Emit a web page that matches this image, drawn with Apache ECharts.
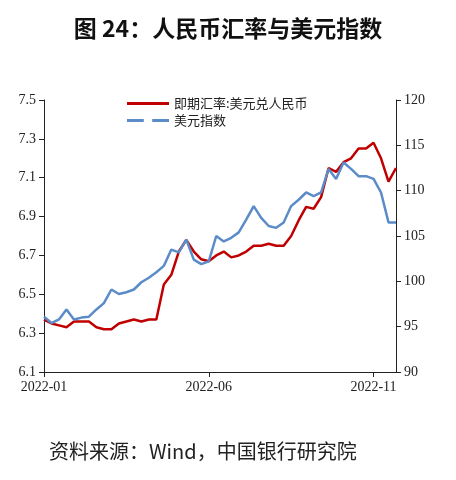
<!DOCTYPE html>
<html><head><meta charset="utf-8">
<script src="https://cdn.jsdelivr.net/npm/echarts@6/dist/echarts.min.js"></script>
<style>body{margin:0;background:#fff}#c{width:456px;height:480px}</style>
</head><body><div id="c"></div>
<script>
// weekly samples from 2022-01-01
var startDate = new Date(2022, 0, 1);
var cny = [6.37,6.35,6.34,6.33,6.36,6.36,6.36,6.33,6.32,6.32,6.35,6.36,6.37,6.36,6.37,6.37,
  6.55,6.60,6.72,6.78,6.72,6.68,6.67,6.70,6.72,6.69,6.70,6.72,6.75,6.75,6.76,6.75,6.75,
  6.80,6.88,6.95,6.94,7.00,7.15,7.13,7.18,7.20,7.25,7.25,7.28,7.20,7.08,7.15];
var dxy = [96.1,95.4,95.8,96.9,95.8,96.0,96.1,96.9,97.6,99.1,98.6,98.8,99.1,99.9,100.4,101.0,
  101.7,103.5,103.2,104.6,102.4,101.9,102.2,105.0,104.4,104.8,105.4,106.8,108.3,107.0,106.1,105.9,106.5,
  108.3,109.0,109.8,109.4,109.8,112.4,111.3,113.1,112.4,111.6,111.6,111.3,109.8,106.5,106.5];
var labelIdx = [0, 22, 44];

var dates = cny.map(function(v, i){
  var d = new Date(startDate.getTime() + i * 7 * 86400000);
  return d.getFullYear() + '-' + ('0' + (d.getMonth() + 1)).slice(-2);
});

var chart = echarts.init(document.getElementById('c'));
var axisFont = {fontFamily: 'Liberation Serif', fontSize: 14, color: '#222'};
chart.setOption({
  title: [
    {text: '图 24：人民币汇率与美元指数', left: 'center', top: 12,
     textStyle: {fontFamily: 'Noto Sans CJK SC', fontSize: 23, fontWeight: 'bold', color: '#111'}},
    {text: '资料来源：Wind，中国银行研究院', left: 44, top: 436,
     textStyle: {fontFamily: 'Noto Sans CJK SC', fontSize: 20, fontWeight: 'normal', color: '#222'}}
  ],
  legend: {
    orient: 'vertical', left: 122, top: 92, itemGap: 4, itemWidth: 42, itemHeight: 10,
    textStyle: {fontFamily: 'Noto Sans CJK SC', fontSize: 13, color: '#222'},
    data: [{name: '即期汇率:美元兑人民币', icon: 'path://M0,4L42,4L42,7L0,7Z'},
           {name: '美元指数', icon: 'path://M0,4L16,4L16,7L0,7ZM24,4L40,4L40,7L24,7Z'}]
  },
  grid: {left: 44, right: 60, top: 100, bottom: 108},
  xAxis: {
    type: 'category', data: dates, boundaryGap: false,
    axisLine: {lineStyle: {color: '#222'}},
    axisTick: {interval: function(i){ return labelIdx.indexOf(i) >= 0; }, lineStyle: {color: '#222'}},
    axisLabel: Object.assign({interval: function(i){ return labelIdx.indexOf(i) >= 0; }, margin: 8}, axisFont)
  },
  yAxis: [
    {type: 'value', min: 6.1, max: 7.5, interval: 0.2, splitLine: {show: false},
     axisLine: {show: true, lineStyle: {color: '#222'}}, axisTick: {show: true},
     axisLabel: Object.assign({formatter: function(v){ return v.toFixed(1); }}, axisFont)},
    {type: 'value', min: 90, max: 120, interval: 5, splitLine: {show: false},
     axisLine: {show: true, lineStyle: {color: '#222'}}, axisTick: {show: true},
     axisLabel: axisFont}
  ],
  series: [
    {name: '即期汇率:美元兑人民币', type: 'line', data: cny, yAxisIndex: 0, showSymbol: false,
     lineStyle: {color: '#c00000', width: 2.5}, itemStyle: {color: '#c00000'}},
    {name: '美元指数', type: 'line', data: dxy, yAxisIndex: 1, showSymbol: false,
     lineStyle: {color: '#5b8cc8', width: 2.5}, itemStyle: {color: '#5b8cc8'}}
  ]
});
</script></body></html>
